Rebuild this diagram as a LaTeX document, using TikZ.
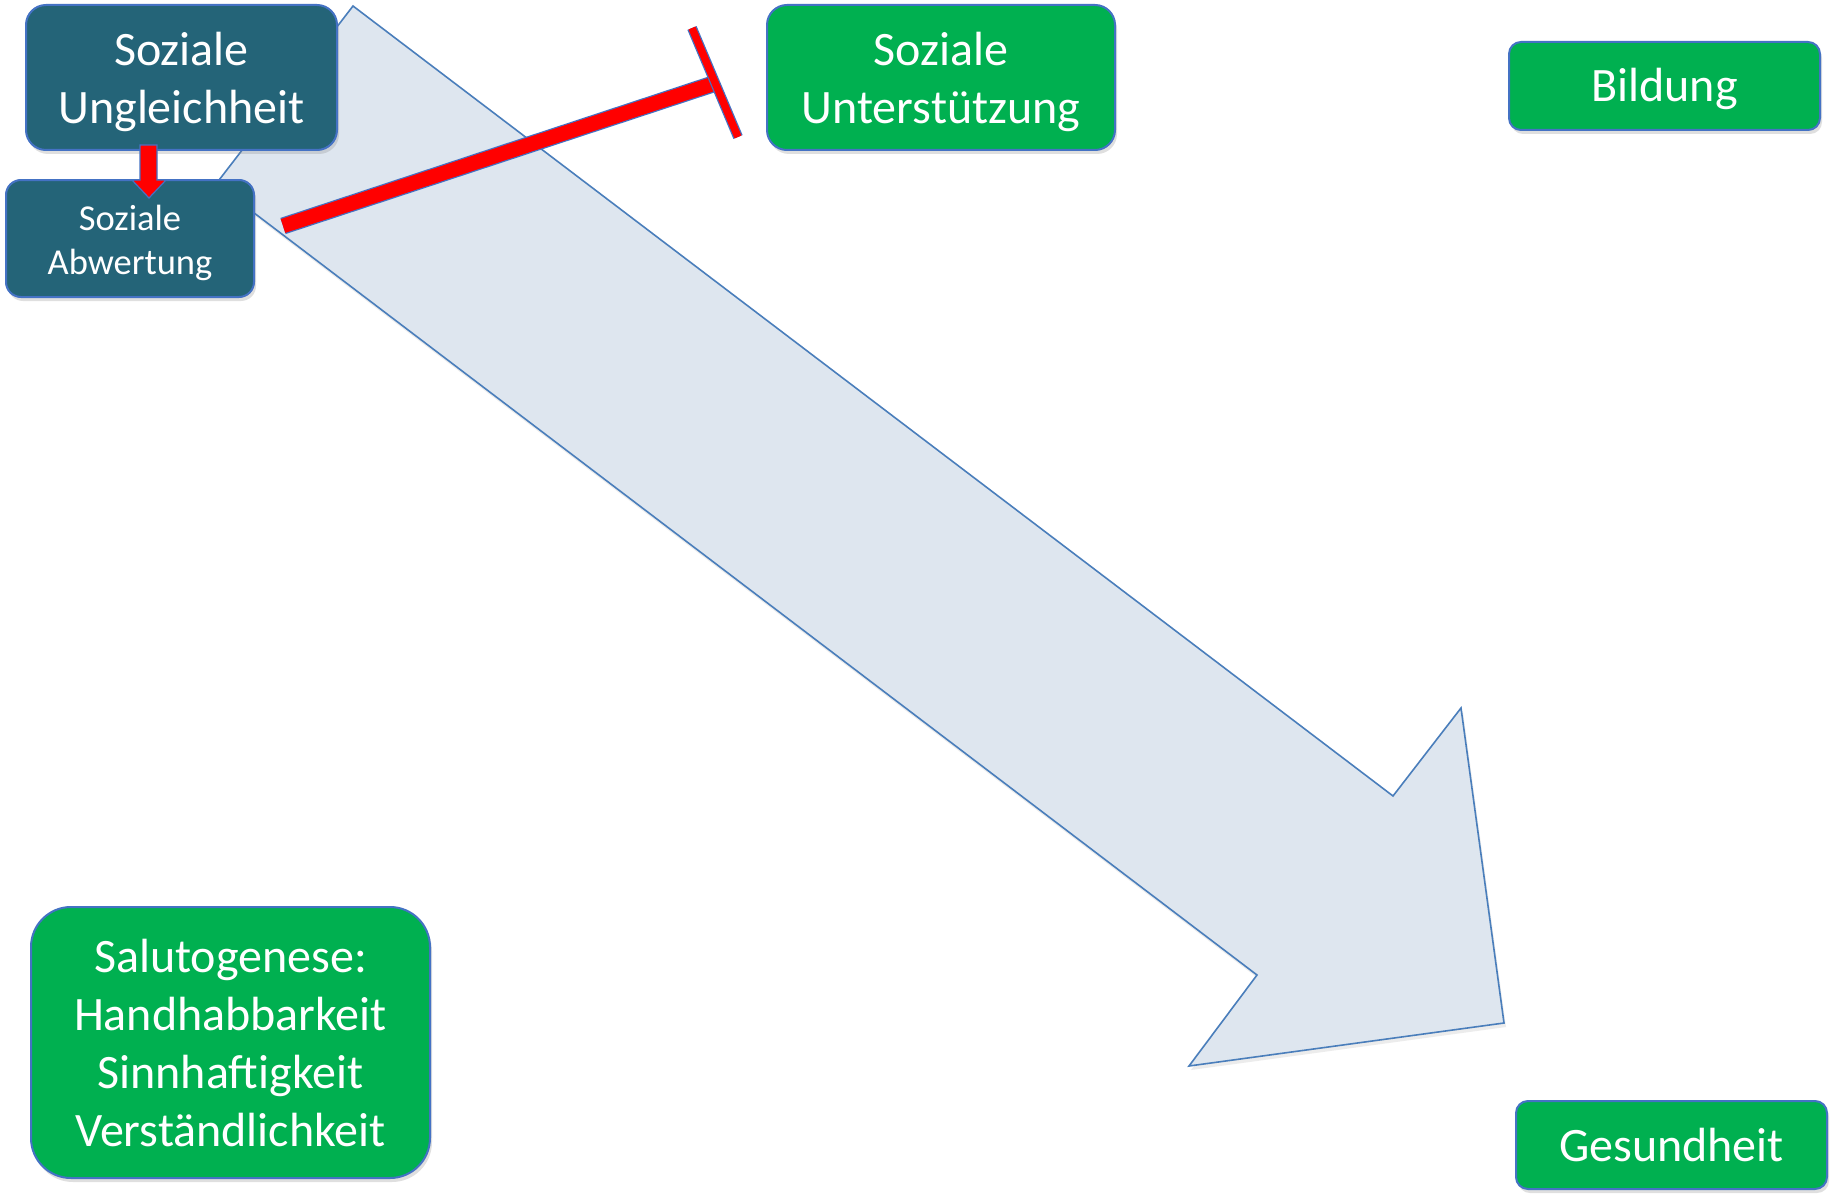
\documentclass[tikz,border=0pt]{standalone}
\usepackage{fontspec}
\setmainfont{Carlito}
\usetikzlibrary{shadows}
\definecolor{tealbox}{RGB}{36,100,120}
\definecolor{greenbox}{RGB}{0,176,80}
\definecolor{edgeblue}{RGB}{68,114,196}
\definecolor{arrowfill}{RGB}{222,230,239}
\definecolor{arrowedge}{RGB}{74,126,187}
\tikzset{
  box/.style={rectangle, draw=edgeblue, line width=2pt, inner sep=0pt,
    drop shadow={shadow xshift=2pt, shadow yshift=-4pt, opacity=0.25}},
  tealstyle/.style={box, fill=tealbox},
  greenstyle/.style={box, fill=greenbox},
  txt/.style={text=white, align=center, inner sep=0pt},
  bigfont/.style={txt, font=\fontsize{48}{58}\selectfont},
  smallfont/.style={txt, font=\fontsize{36.5}{44}\selectfont},
}
\begin{document}
\begin{tikzpicture}[x=1pt,y=-1pt]
\useasboundingbox (0,0) rectangle (1845,1196);
\fill[white] (0,0) rectangle (1845,1196);

% big block arrow
\draw[fill=arrowfill, draw=arrowedge, line width=1.6pt, line join=miter,
  drop shadow={shadow xshift=2pt, shadow yshift=-4pt, opacity=0.15}]
  (353,6) -- (1393,796) -- (1461,708) -- (1504,1023) -- (1189,1066)
  -- (1257,975) -- (216,184) -- cycle;

% boxes
\node[tealstyle, minimum width=311pt, minimum height=145pt, rounded corners=20pt]
  (ung) at (181.5,77.5) {};
\node[bigfont] (ungt) at ([yshift=-4pt]ung.center) {Soziale\\Ungleichheit};
\node[tealstyle, minimum width=248pt, minimum height=117pt, rounded corners=15pt]
  (abw) at (130,238.5) {};
\node[smallfont] (abwt) at ([yshift=-4pt]abw.center) {Soziale\\Abwertung};
\node[greenstyle, minimum width=348pt, minimum height=145pt, rounded corners=20pt]
  (unt) at (941,77.5) {};
\node[bigfont] (untt) at ([yshift=-4pt]unt.center) {Soziale\\Unterstützung};
\node[greenstyle, minimum width=311pt, minimum height=88pt, rounded corners=12pt]
  (bil) at (1664.5,86) {};
\node[bigfont] (bilt) at ([yshift=-3pt]bil.center) {Bildung};
\node[greenstyle, minimum width=311pt, minimum height=88pt, rounded corners=12pt]
  (ges) at (1671.5,1145) {};
\node[bigfont] (gest) at ([yshift=0pt]ges.center) {Gesundheit};
\node[greenstyle, minimum width=399pt, minimum height=271pt, rounded corners=40pt]
  (sal) at (230.5,1042.5) {};
\node[bigfont] (salt) at ([yshift=-1pt]sal.center) {Salutogenese:\\Handhabbarkeit\\Sinnhaftigkeit\\Verständlichkeit};

% red block arrow from Ungleichheit to Abwertung
\draw[fill=red, draw=edgeblue, line width=1.2pt, line join=miter]
  (140,145) -- (157,145) -- (157,180) -- (166,180) -- (149,198)
  -- (132,180) -- (140,180) -- cycle;

% inhibition line
\coordinate (inhA) at (283,226);
\coordinate (inhB) at (713,84);
\coordinate (barA) at (692,28);
\coordinate (barB) at (738,137);
\draw[edgeblue, line width=17pt] (inhA) -- (inhB);
\draw[red, line width=14.5pt] (inhA) -- (inhB);
\draw[edgeblue, line width=10pt] (barA) -- (barB);
\draw[red, line width=7.5pt] (barA) -- (barB);
\end{tikzpicture}
\end{document}
